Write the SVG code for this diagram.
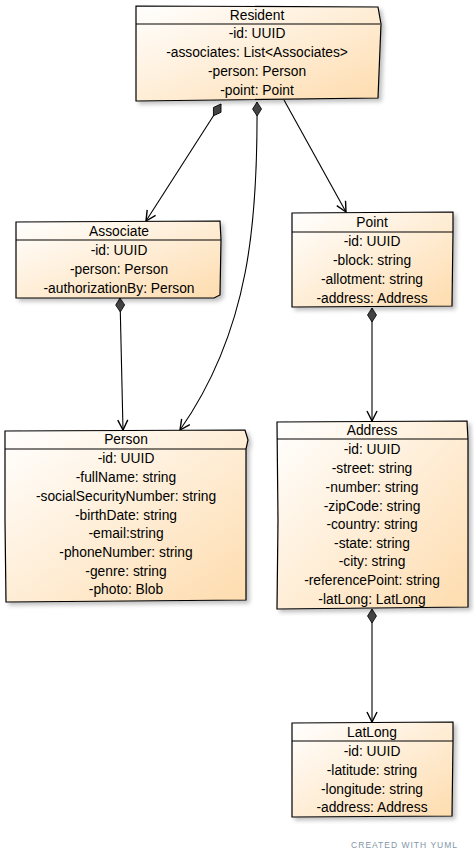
<svg xmlns="http://www.w3.org/2000/svg" width="474" height="860" viewBox="0 0 474 860">
<defs>
<linearGradient id="g" x1="0" y1="0" x2="1" y2="1">
<stop offset="0" stop-color="#ffffff"/>
<stop offset="1" stop-color="#fedcae"/>
</linearGradient>
<filter id="sh" x="-10%" y="-10%" width="130%" height="130%">
<feGaussianBlur in="SourceAlpha" stdDeviation="2"/>
<feOffset dx="3" dy="3" result="b"/>
<feComponentTransfer><feFuncA type="linear" slope="0.25"/></feComponentTransfer>
<feMerge><feMergeNode/><feMergeNode in="SourceGraphic"/></feMerge>
</filter>
<marker id="arr" viewBox="0 0 12 12" refX="11" refY="6" markerWidth="12" markerHeight="12" markerUnits="userSpaceOnUse" orient="auto">
<path d="M1,1 L11,6 L1,11" fill="none" stroke="#000" stroke-width="1.4"/>
</marker>
<marker id="dia" viewBox="0 0 16 12" refX="1" refY="6" markerWidth="16" markerHeight="12" markerUnits="userSpaceOnUse" orient="auto">
<path d="M1,6 L8,1.5 L15,6 L8,10.5 Z" fill="#444" stroke="#000" stroke-width="0.8"/>
</marker>
</defs>
<style>
.box{fill:url(#g);stroke:#000;stroke-width:1.2;filter:url(#sh)}
.sep{stroke:#000;stroke-width:1.2;fill:none}
text{font-family:"Liberation Sans",Arial,sans-serif;font-size:13.8px;fill:#000;text-anchor:middle}
.edge{fill:none;stroke:#000;stroke-width:1.1}
.foot{font-size:8.5px;fill:#8396a8;letter-spacing:1px;text-anchor:end}
</style>
<g id="connectors">
<path class="edge" d="M221,104 L146,221" marker-start="url(#dia)" marker-end="url(#arr)"/>
<path class="edge" d="M257,102 C258,220 250,330 180,430" marker-start="url(#dia)" marker-end="url(#arr)"/>
<path class="edge" d="M284,100 L346,212" marker-end="url(#arr)"/>
<path class="edge" d="M120,298 L123,430" marker-start="url(#dia)" marker-end="url(#arr)"/>
<path class="edge" d="M372,308 L372,421" marker-start="url(#dia)" marker-end="url(#arr)"/>
<path class="edge" d="M372,609 L372,722" marker-start="url(#dia)" marker-end="url(#arr)"/>
</g>
<g id="Resident">
<path class="box" d="M136,6 L378,7 L381,24 L378,98 L136,101 L136,60 Z"/>
<path class="sep" d="M136,24 L380,24"/>
<text x="257" y="20">Resident</text>
<text x="257" y="38">-id: UUID</text>
<text x="257" y="57">-associates: List&lt;Associates&gt;</text>
<text x="257" y="76">-person: Person</text>
<text x="257" y="95">-point: Point</text>
</g>
<g id="Associate">
<path class="box" d="M16,222 L220,221 L221,240 L220,295 L214,298 L16,298 Z"/>
<path class="sep" d="M16,240 L221,240"/>
<text x="119" y="236">Associate</text>
<text x="119" y="255">-id: UUID</text>
<text x="119" y="274">-person: Person</text>
<text x="119" y="293">-authorizationBy: Person</text>
</g>
<g id="Point">
<path class="box" d="M292,213 L453,212 L453,232 L452,306 L292,307 Z"/>
<path class="sep" d="M292,232 L453,232"/>
<text x="372" y="227">Point</text>
<text x="372" y="246">-id: UUID</text>
<text x="372" y="265">-block: string</text>
<text x="372" y="284">-allotment: string</text>
<text x="372" y="303">-address: Address</text>
</g>
<g id="Person">
<path class="box" d="M5,431 L245,430 L248,440 L246,449 L246,600 L6,602 L5,520 Z"/>
<path class="sep" d="M5,449 L246,449"/>
<text x="126" y="444">Person</text>
<text x="126" y="463">-id: UUID</text>
<text x="126" y="482">-fullName: string</text>
<text x="126" y="501">-socialSecurityNumber: string</text>
<text x="126" y="520">-birthDate: string</text>
<text x="126" y="538">-email:string</text>
<text x="126" y="557">-phoneNumber: string</text>
<text x="126" y="576">-genre: string</text>
<text x="126" y="594">-photo: Blob</text>
</g>
<g id="Address">
<path class="box" d="M277,422 L467,421 L468,440 L468,607 L277,609 L278,520 Z"/>
<path class="sep" d="M277,439 L468,439"/>
<text x="372" y="435">Address</text>
<text x="372" y="454">-id: UUID</text>
<text x="372" y="473">-street: string</text>
<text x="372" y="492">-number: string</text>
<text x="372" y="511">-zipCode: string</text>
<text x="372" y="529">-country: string</text>
<text x="372" y="548">-state: string</text>
<text x="372" y="566">-city: string</text>
<text x="372" y="585">-referencePoint: string</text>
<text x="372" y="604">-latLong: LatLong</text>
</g>
<g id="LatLong">
<path class="box" d="M292,723 L453,722 L453,742 L452,816 L292,817 Z"/>
<path class="sep" d="M292,741 L453,741"/>
<text x="372" y="737">LatLong</text>
<text x="372" y="756">-id: UUID</text>
<text x="372" y="775">-latitude: string</text>
<text x="372" y="794">-longitude: string</text>
<text x="372" y="812">-address: Address</text>
</g>
<text class="foot" x="458" y="848">CREATED WITH YUML</text>
</svg>
